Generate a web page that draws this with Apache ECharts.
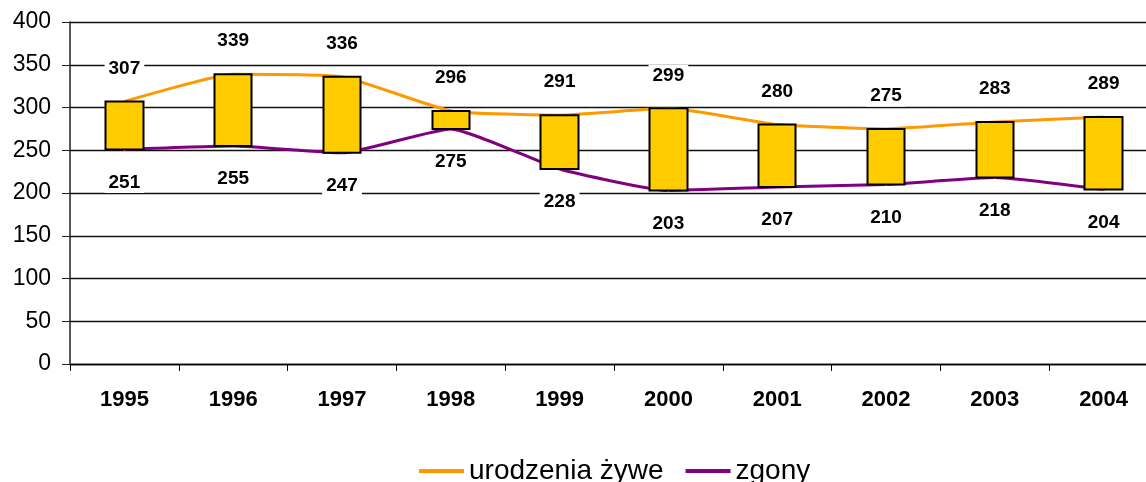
<!DOCTYPE html>
<html>
<head>
<meta charset="utf-8">
<script src="https://cdn.jsdelivr.net/npm/echarts@6/dist/echarts.min.js"></script>
<style>
    html, body { margin: 0; padding: 0; background: #fff; overflow: hidden; }
    #chart { width: 1158px; height: 482px; }
</style>
</head>
<body>
<div id="chart"></div>
<script>
// lata
var years = ['1995', '1996', '1997', '1998', '1999', '2000', '2001', '2002', '2003', '2004'];
// urodzenia żywe
var births = [307, 339, 336, 296, 291, 299, 280, 275, 283, 289];
// zgony
var deaths = [251, 255, 247, 275, 228, 203, 207, 210, 218, 204];

var font = "'Liberation Sans', Arial, sans-serif";

// słupki między seriami (open, close, low, high)
var boxes = births.map(function (b, i) {
    return [deaths[i], b, Math.min(b, deaths[i]), Math.max(b, deaths[i])];
});

var myChart = echarts.init(document.getElementById('chart'));
myChart.setOption({
    animation: false,
    grid: {
        left: 70,
        top: 22,
        right: 0,
        bottom: 118
    },
    legend: {
        top: 452,
        left: 414,
        itemWidth: 45,
        itemHeight: 4,
        itemGap: 22,
        textStyle: {
            fontFamily: font,
            fontSize: 28,
            color: '#000'
        },
        data: [
            { name: 'urodzenia żywe', icon: 'rect', itemStyle: { color: '#FF9900' } },
            { name: 'zgony', icon: 'rect', itemStyle: { color: '#800080' } }
        ]
    },
    xAxis: {
        type: 'category',
        data: years,
        boundaryGap: true,
        axisLine: {
            lineStyle: { color: '#000', width: 1.3 }
        },
        axisTick: {
            show: true,
            length: 7,
            lineStyle: { color: '#000' }
        },
        axisLabel: {
            color: '#000',
            fontFamily: font,
            fontWeight: 'bold',
            fontSize: 22,
            margin: 25
        },
        splitLine: { show: false }
    },
    yAxis: {
        type: 'value',
        min: 0,
        max: 400,
        interval: 50,
        axisLine: {
            show: true,
            lineStyle: { color: '#222', width: 1.5 }
        },
        axisTick: {
            show: true,
            length: 8,
            lineStyle: { color: '#222' }
        },
        axisLabel: {
            color: '#000',
            fontFamily: font,
            fontSize: 23,
            margin: 19
        },
        splitLine: {
            lineStyle: { color: '#111', width: 1.3 }
        }
    },
    series: [
        {
            name: 'słupki',
            type: 'candlestick',
            data: boxes,
            barWidth: 38,
            z: 3,
            itemStyle: {
                color: '#FFCC00',
                color0: '#FFCC00',
                borderColor: '#000',
                borderColor0: '#000',
                borderWidth: 2
            }
        },
        {
            name: 'urodzenia żywe',
            type: 'line',
            data: births,
            smooth: 0.15,
            z: 2,
            symbol: 'circle',
            symbolSize: 1,
            itemStyle: { color: '#FF9900' },
            lineStyle: { color: '#FF9900', width: 3 },
            label: {
                show: true,
                position: 'top',
                distance: 22,
                color: '#000',
                fontFamily: font,
                fontWeight: 'bold',
                fontSize: 19,
                backgroundColor: '#fff',
                padding: [1, 4]
            }
        },
        {
            name: 'zgony',
            type: 'line',
            data: deaths,
            smooth: 0.15,
            z: 2,
            symbol: 'circle',
            symbolSize: 3,
            itemStyle: { color: '#FF9900' },
            lineStyle: { color: '#800080', width: 3 },
            label: {
                show: true,
                position: 'bottom',
                distance: 21,
                color: '#000',
                fontFamily: font,
                fontWeight: 'bold',
                fontSize: 19,
                backgroundColor: '#fff',
                padding: [1, 4]
            }
        }
    ]
});
</script>
</body>
</html>
